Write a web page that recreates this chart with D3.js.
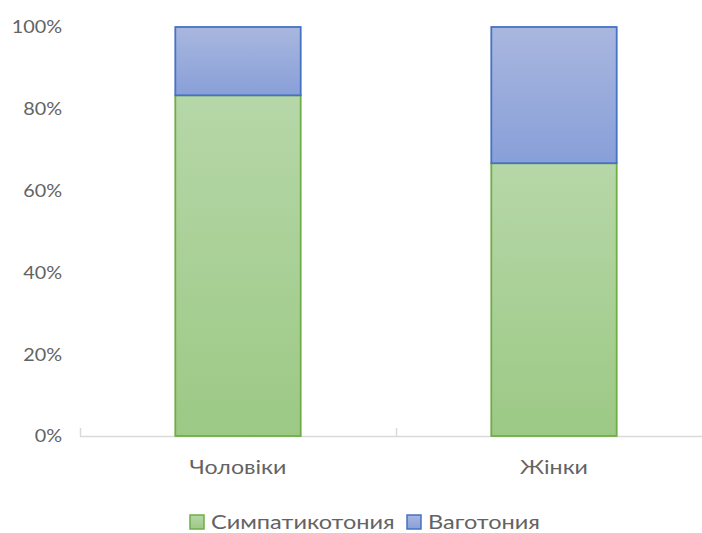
<!DOCTYPE html>
<html>
<head>
<meta charset="utf-8">
<script src="https://cdn.jsdelivr.net/npm/d3@7"></script>
<style>
  html, body { margin: 0; padding: 0; background: #fff; }
  svg text { font-family: Lato, "Open Sans", sans-serif; fill: #636363; }
</style>
</head>
<body>
<svg id="chart" width="702" height="533"></svg>
<script>
// Share of autonomic tone types by sex
const categories = ["Чоловіки", "Жінки"];
const seriesNames = ["Симпатикотония", "Ваготония"];
const sympathicotonia = [83.3, 66.7];
const vagotonia = [16.7, 33.3];
const yTicks = [0, 20, 40, 60, 80, 100];

const fills = [["#b6d7a8", "#9cc985"], ["#a9b7df", "#889fd8"]];
const strokes = ["#70ad47", "#4472c4"];

const svg = d3.select("#chart");
const margin = { left: 80, top: 27, bottom: 97 };
const plotH = 533 - margin.top - margin.bottom;

const x = d3.scaleBand().domain(categories).range([80, 712]).paddingInner(0.6).paddingOuter(0.3);
const y = d3.scaleLinear().domain([0, 100]).range([margin.top + plotH, margin.top]);

// wide text: horizontal stretch around the anchor point
function place(sel, fx, fy, sx) {
  return sel.attr("transform", (d, i) => `translate(${fx(d, i)},${fy(d, i)}) scale(${sx},1)`);
}

// gradients
const defs = svg.append("defs");
fills.forEach((c, i) => {
  const g = defs.append("linearGradient").attr("id", "grad" + i)
    .attr("x1", 0).attr("y1", 0).attr("x2", 0).attr("y2", 1);
  g.append("stop").attr("offset", "0%").attr("stop-color", c[0]);
  g.append("stop").attr("offset", "100%").attr("stop-color", c[1]);
});

// stacked data
const rows = categories.map((c, i) => ({ cat: c, s0: sympathicotonia[i], s1: vagotonia[i] }));
const stack = d3.stack().keys(["s0", "s1"])(rows);

// axis line and category ticks
const axisY = y(0);
svg.append("line").attr("x1", x.range()[0]).attr("x2", x.range()[1])
  .attr("y1", axisY + 0.5).attr("y2", axisY + 0.5).attr("stroke", "#d9d9d9").attr("stroke-width", 1.5);
const tickXs = [x.range()[0], x.range()[0] + x.step(), x.range()[1]];
svg.selectAll(".ctick").data(tickXs).join("line")
  .attr("x1", d => d + 0.5).attr("x2", d => d + 0.5)
  .attr("y1", axisY - 8).attr("y2", axisY + 0.5)
  .attr("stroke", "#d9d9d9").attr("stroke-width", 1.5);

// bars
stack.forEach((layer, i) => {
  svg.selectAll(".bar" + i).data(layer).join("rect")
    .attr("x", d => x(d.data.cat) + 0.5)
    .attr("width", x.bandwidth() - 1)
    .attr("y", d => y(d[1]))
    .attr("height", d => y(d[0]) - y(d[1]))
    .attr("fill", `url(#grad${i})`)
    .attr("stroke", strokes[i])
    .attr("stroke-width", 1.8);
});

// y tick labels
place(svg.selectAll(".ylab").data(yTicks).join("text"), () => 62, d => y(d), 1.1)
  .attr("dy", "0.35em").attr("text-anchor", "end")
  .attr("font-size", 18)
  .text(d => d + "%");

// category labels
place(svg.selectAll(".xlab").data(categories).join("text"),
  d => x(d) + x.bandwidth() / 2, () => 474, 1.22)
  .attr("text-anchor", "middle").attr("font-size", 19)
  .text(d => d);

// legend
const leg = svg.append("g");
const legX = [190, 407];
seriesNames.forEach((n, i) => {
  leg.append("rect").attr("x", legX[i]).attr("y", 515).attr("width", 14).attr("height", 14)
    .attr("fill", `url(#grad${i})`).attr("stroke", strokes[i]).attr("stroke-width", 1.5);
  place(leg.append("text"), () => legX[i] + 21, () => 529, 1.24)
    .attr("font-size", 19).text(n);
});
</script>
</body>
</html>
